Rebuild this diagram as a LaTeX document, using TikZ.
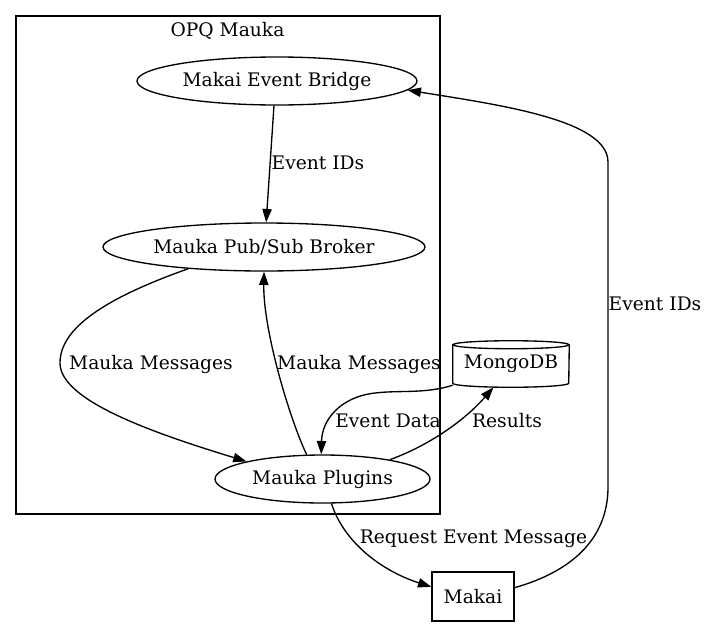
\documentclass[tikz,border=0pt]{standalone}
\usepackage{fontspec}
\setmainfont{DejaVu Serif}
\usetikzlibrary{arrows.meta, shapes.geometric, calc}
\newcommand{\gvfont}{\fontsize{14pt}{17pt}\selectfont}
\tikzset{
  proc/.style={draw=black, ellipse, line width=1pt, inner sep=0pt, minimum height=36pt, font=\gvfont},
  dbase/.style={inner sep=0pt, minimum width=87pt, minimum height=34.5pt, font=\gvfont},
  box/.style={draw=black, rectangle, line width=1pt, inner sep=0pt, minimum width=61.5pt,
              minimum height=36.75pt, font=\gvfont},
  lbl/.style={font=\gvfont, inner sep=0pt, anchor=base},
  frame/.style={draw=black, line width=1pt},
  arr/.style={-{Triangle[length=10pt, width=7pt]}, line width=1pt},
}

\begin{document}
\begin{tikzpicture}[x=0.75pt, y=-0.75pt]
\useasboundingbox (0,0) rectangle (709,625);

% the cluster
\draw[frame] (16,16) rectangle (440,514);
\node[lbl] (ttl) at (227.5,36) {OPQ Mauka};

% nodes
\node[proc, minimum width=210pt] (bridge) at (277,81) {Makai Event Bridge};
\node[proc, minimum width=241.5pt] (broker) at (264,247) {Mauka Pub/Sub Broker};
\node[proc, minimum width=161.25pt] (plugins) at (322.5,479) {Mauka Plugins};
\node[dbase] (mongo) at (511,364) {MongoDB};
\node[box] (makai) at (473,596.5) {Makai};

% the cylinder round MongoDB
\draw[line width=1pt] ($(mongo.north)+(0,4)$) ellipse [x radius=58, y radius=4];
\draw[line width=1pt] ($(mongo.north west)+(0,4)$) -- ($(mongo.south west)+(0,-4)$)
  arc[start angle=180, end angle=0, x radius=58, y radius=4] -- ($(mongo.north east)+(0,4)$);

% bridge to broker
\draw[arr] (bridge.263) -- (broker.85);
\node[lbl] (ids1) at (318,169) {Event IDs};

% broker and plugins, both ways
\draw[arr] (broker.196) .. controls (100,300) and (60,330) .. (60,363)
  .. controls (60,400) and (150,432) .. (plugins.167);
\node[lbl] (msg1) at (151,369) {Mauka Messages};
\draw[arr] (plugins.123) .. controls (290,420) and (263,330) .. (broker.south);
\node[lbl] (msg2) at (359,369) {Mauka Messages};

% plugins and the store
\draw[arr] (mongo.200) .. controls (425,394) and (400,390) .. (375,393)
  .. controls (340,397) and (322,420) .. (plugins.93);
\node[lbl] (data) at (388,427) {Event Data};
\draw[arr] (plugins.16) .. controls (430,445) and (465,420) .. (mongo.233);
\node[lbl] (res) at (507,427) {Results};

% plugins to makai, and back to the bridge
\draw[arr] (plugins.290) .. controls (345,545) and (385,572) .. (makai.167);
\node[lbl] (req) at (473.5,543) {Request Event Message};
\draw[arr] (makai.12) .. controls (570,572) and (608,540) .. (608,487) -- (608,162)
  .. controls (608,120) and (500,105) .. (bridge.356);
\node[lbl] (ids2) at (655,310) {Event IDs};
\end{tikzpicture}
\end{document}
